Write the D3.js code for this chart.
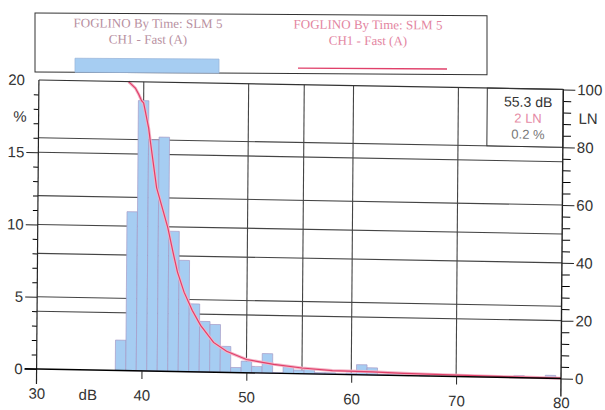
<!DOCTYPE html>
<html>
<head>
<meta charset="utf-8">
<script src="https://cdn.jsdelivr.net/npm/d3@7"></script>
<style>
  body { margin: 0; background: #fff; }
  svg { display: block; }
</style>
</head>
<body>
<script>
// 1 dB classes (centre value) and % of time in each class
const levels  = [38, 39, 40, 41, 42, 43, 44, 45, 46, 47, 48, 49, 50, 51, 52, 53, 54, 55, 56, 57, 58,
                 59, 60, 61, 62, 63, 64, 65, 66, 67, 68, 69, 70, 71, 72, 73, 74, 75, 76, 77, 78, 79];
const percent = [2.1, 11.0, 18.7, 16.0, 16.2, 9.7, 7.7, 4.7, 3.5, 3.3, 1.8, 0.35, 0.8, 0.45, 1.35, 0.05, 0.5, 0.25, 0.35, 0.1, 0.1,
                 0.05, 0.1, 0.7, 0.5, 0.05, 0.05, 0.05, 0, 0.05, 0, 0, 0, 0, 0, 0, 0, 0.05, 0.15, 0.05, 0, 0.2];

// cumulative LN trace (red line)
const lnLevels = [38.55, 38.7, 39.2, 39.55, 39.8, 40.0, 40.1, 40.5, 40.65, 41.3, 41.9, 42.4, 42.9, 43.35,
                  44.0, 44.8, 45.6, 46.85, 48.1, 50.0, 52.6, 55.3, 58.2, 62.0, 65.0, 68.0, 71.0, 74.0, 77.0, 80.0];
const lnValues = [100, 99.5, 97.8, 95.5, 93.5, 92.7, 91.0, 84.0, 80.0, 63.5, 56.0, 49.7, 41.5, 34.5,
                  27.5, 21.2, 16.1, 10.3, 7.3, 4.6, 3.1, 2.0, 1.3, 1.1, 0.8, 0.6, 0.45, 0.3, 0.2, 0.1];

const pctTicks = [0, 5, 10, 15, 20];
const lnTicks  = [0, 20, 40, 60, 80, 100];
const dbTicks  = [30, 40, 50, 60, 70, 80];
const cursorLevel = 55.3;
const cursorText = ["55.3 dB", "2 LN", "0.2 %"];
const legendText = ["FOGLINO By Time: SLM 5", "CH1 - Fast (A)"];

const width = 605, height = 410;
const svg = d3.select("body").append("svg")
  .attr("width", width).attr("height", height)
  .style("font-family", "'Liberation Sans', Arial, sans-serif");

// scales
const x   = d3.scaleLinear().domain([30, 80]).range([36.6, 561]);
const y   = d3.scaleLinear().domain([0, 20]).range([369, 80]);
const yLN = d3.scaleLinear().domain([0, 100]).range([369, 80]);

// ---- legend box (scanned page is a bit skewed) ----
const leg = svg.append("g")
  .attr("transform", "translate(35,72) matrix(1,0.006,0,1,0,0) translate(-35,-72)");
leg.append("rect").attr("x", 35).attr("y", 13).attr("width", 452).attr("height", 59)
  .attr("fill", "#fff").attr("stroke", "#333").attr("stroke-width", 1);
[{cx: 148, col: "#b8909f"}, {cx: 368, col: "#e3859f"}].forEach(s => {
  leg.append("g").selectAll("text").data(legendText).join("text")
    .attr("x", s.cx).attr("y", (d, i) => 27 + i * 16)
    .attr("text-anchor", "middle")
    .style("font-family", "'Liberation Serif', 'Times New Roman', serif")
    .style("font-size", "13px").attr("fill", s.col)
    .text(d => d);
});
leg.append("rect").attr("x", 75).attr("y", 58).attr("width", 144).attr("height", 14)
  .attr("fill", "#a6cdf2").attr("stroke", "#9cb8dc").attr("stroke-width", 0.8);
leg.append("line").attr("x1", 298).attr("x2", 447).attr("y1", 66.5).attr("y2", 66.5)
  .attr("stroke", "#e0406a").attr("stroke-width", 1.4);

// ---- chart, with the slight skew of the scan ----
const g = svg.append("g")
  .attr("transform", "translate(37,369) matrix(1,0.018,-0.008,1,0,0) translate(-37,-369)");

const gridCol = "#444";
// horizontal grid: % lines and LN lines
g.append("g").selectAll("line").data([5, 10, 15]).join("line")
  .attr("x1", x(30)).attr("x2", x(80)).attr("y1", d => y(d)).attr("y2", d => y(d))
  .attr("stroke", gridCol).attr("stroke-width", 1.1);
g.append("g").selectAll("line").data([20, 40, 60, 80]).join("line")
  .attr("x1", x(30)).attr("x2", x(80)).attr("y1", d => yLN(d)).attr("y2", d => yLN(d))
  .attr("stroke", gridCol).attr("stroke-width", 1.1);
// vertical grid
g.append("g").selectAll("line").data([40, 50, 60, 70, cursorLevel]).join("line")
  .attr("x1", d => x(d)).attr("x2", d => x(d)).attr("y1", y(20)).attr("y2", y(0))
  .attr("stroke", gridCol).attr("stroke-width", 1.1);

// histogram bars
g.append("g").selectAll("rect").data(levels.map((l, i) => ({l, p: percent[i]})).filter(d => d.p > 0))
  .join("rect")
  .attr("x", d => x(d.l - 0.5)).attr("width", d => x(d.l + 0.5) - x(d.l - 0.5))
  .attr("y", d => y(d.p)).attr("height", d => y(0) - y(d.p))
  .attr("fill", "#a6cdf2").attr("stroke", "#a59ac6").attr("stroke-width", 0.7);

// LN trace
const lnPts = lnLevels.map((l, i) => [x(l), yLN(lnValues[i])]);
const line = d3.line();
g.append("path").attr("d", line(lnPts)).attr("fill", "none")
  .attr("stroke", "#f4b3c6").attr("stroke-width", 3);
g.append("path").attr("d", line(lnPts)).attr("fill", "none")
  .attr("stroke", "#e0406a").attr("stroke-width", 1.2);

// cursor read-out box
g.append("rect").attr("x", 485).attr("y", y(20)).attr("width", x(80) - 485).attr("height", yLN(80) - y(20))
  .attr("fill", "#fff").attr("stroke", "#333").attr("stroke-width", 1);
g.append("g").selectAll("text").data(cursorText).join("text")
  .attr("x", 526).attr("y", (d, i) => 98 + i * 16)
  .attr("text-anchor", "middle")
  .style("font-size", (d, i) => i === 0 ? "14px" : "13px")
  .attr("fill", (d, i) => ["#333", "#e58aa5", "#777"][i])
  .text(d => d);

// frame
g.append("line").attr("x1", x(30)).attr("x2", x(80)).attr("y1", y(20)).attr("y2", y(20))
  .attr("stroke", "#333").attr("stroke-width", 1.2);

// left axis: major + minor ticks
const leftMajor = g.append("g").attr("transform", `translate(${x(30)},0)`)
  .call(d3.axisLeft(y).tickValues(pctTicks).tickSize(12).tickPadding(2).tickFormat(d3.format("d")));
leftMajor.select(".domain").remove();
leftMajor.selectAll(".tick").filter(d => d === 20).select("line").remove();
g.append("g").attr("transform", `translate(${x(30)},0)`)
  .call(d3.axisLeft(y).tickValues(d3.range(1, 20).filter(d => d % 5)).tickSize(5).tickFormat(""))
  .select(".domain").remove();
g.append("line").attr("x1", x(30)).attr("x2", x(30)).attr("y1", y(20)).attr("y2", y(0) + 15)
  .attr("stroke", "#222").attr("stroke-width", 1.2);

// right axis
const rightMajor = g.append("g").attr("transform", `translate(${x(80)},0)`)
  .call(d3.axisRight(yLN).tickValues(lnTicks).tickSize(12).tickPadding(2));
rightMajor.select(".domain").remove();
g.append("g").attr("transform", `translate(${x(80)},0)`)
  .call(d3.axisRight(yLN).tickValues(d3.range(4, 100, 4).filter(d => d % 20)).tickSize(8).tickFormat(""))
  .select(".domain").remove();
g.append("line").attr("x1", x(80)).attr("x2", x(80)).attr("y1", y(20)).attr("y2", y(0) + 18)
  .attr("stroke", "#222").attr("stroke-width", 1.4);

// bottom axis
const bottom = g.append("g").attr("transform", `translate(0,${y(0)})`)
  .call(d3.axisBottom(x).tickValues(dbTicks).tickSize(8).tickPadding(11));
bottom.select(".domain").attr("stroke-width", 1.4).attr("d", `M${x(30) - 12},0H${x(80)}`);
bottom.selectAll(".tick").filter(d => d === 30 || d === 80).select("line").remove();

[leftMajor, rightMajor, bottom].forEach(a => {
  a.selectAll("text").style("font-size", "15px").attr("fill", "#333");
  a.selectAll("line").attr("stroke", "#222");
});

// unit labels
g.append("text").attr("x", 18).attr("y", 122).attr("text-anchor", "middle")
  .style("font-size", "15px").attr("fill", "#333").text("%");
g.append("text").attr("x", 88).attr("y", y(0) + 30).attr("text-anchor", "middle")
  .style("font-size", "15px").attr("fill", "#333").text("dB");
g.append("text").attr("x", 586).attr("y", 114).attr("text-anchor", "middle")
  .style("font-size", "15px").attr("fill", "#333").text("LN");
</script>
</body>
</html>
